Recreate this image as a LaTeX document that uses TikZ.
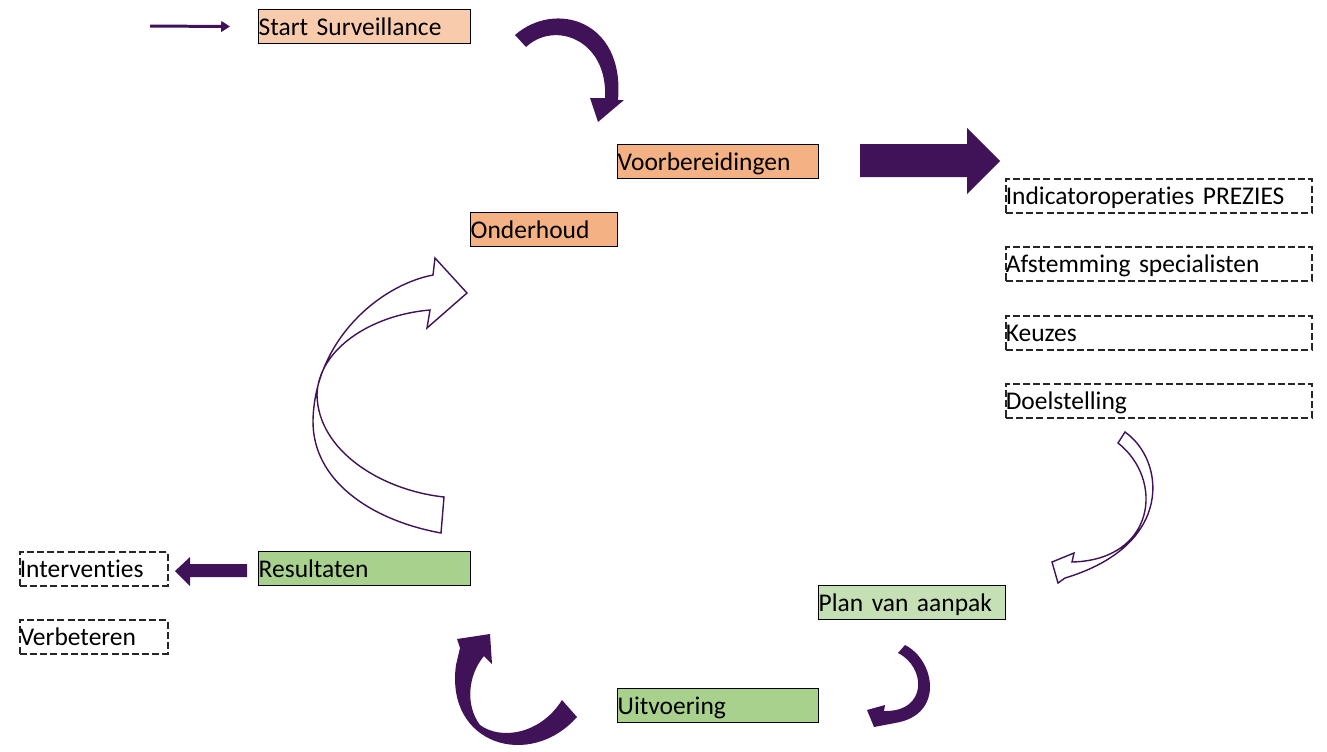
\documentclass[tikz,border=0pt]{standalone}
\usepackage{fontspec}
\setmainfont{Carlito}[Ligatures=NoCommon]
\usetikzlibrary{arrows.meta}
\definecolor{paars}{RGB}{64,18,88}
\definecolor{perzik}{HTML}{F8CBAD}
\definecolor{oranje}{HTML}{F4B183}
\definecolor{groen}{HTML}{A9D18E}
\definecolor{lichtgroen}{HTML}{C5E0B4}
\tikzset{
  fase/.style={draw=black, line width=0.8pt, anchor=north west, minimum height=0.68cm,
    inner xsep=0pt, inner ysep=0pt, text height=11.6pt, text depth=1.4pt, align=left,
    font=\fontsize{14.5}{17}\selectfont},
  taak/.style={fase, draw=black!85, line width=0.9pt, dash pattern=on 4pt off 1.8pt},
  lint/.style={fill=paars},
  lintopen/.style={draw=paars, fill=white, line width=0.8pt, line join=miter},
}
\begin{document}
\begin{tikzpicture}[x=0.02cm,y=-0.02cm]
\useasboundingbox (0,0) rectangle (1327,751);

% Fasen van de cyclus
\node[fase,fill=perzik,text width=4.24cm] (start) at (258,9) {Start Surveillance};
\node[fase,fill=oranje,text width=4.02cm] (voor) at (617,144) {Voorbereidingen};
\node[fase,fill=oranje,text width=2.94cm] (onderhoud) at (470,212) {Onderhoud};
\node[fase,fill=lichtgroen,text width=3.74cm] (plan) at (818,585) {Plan van aanpak};
\node[fase,fill=groen,text width=4.02cm] (uitv) at (617,688) {Uitvoering};
\node[fase,fill=groen,text width=4.24cm] (res) at (258,551) {Resultaten};

% Onderdelen van de voorbereiding
\node[taak,text width=6.12cm] (indic) at (1005,178) {Indicatoroperaties PREZIES};
\node[taak,text width=6.12cm] (afst) at (1005,246) {Afstemming specialisten};
\node[taak,text width=6.12cm] (keuzes) at (1005,315) {Keuzes};
\node[taak,text width=6.12cm] (doel) at (1005,383) {Doelstelling};

% Gevolgen van de resultaten
\node[taak,text width=2.96cm] (interv) at (19,551) {Interventies};
\node[taak,text width=2.96cm] (verb) at (19,619) {Verbeteren};

% Ingang
\coordinate (ingang) at (150,26);
\draw[paars,line width=1.7pt,-{Triangle[length=5pt,width=6pt]},shorten >=0.56cm] (ingang) -- (start.west);

% Rechte blokpijlen
\fill[lint] (860,144) -- (967,144) -- (967,128) -- (1000,161) -- (967,194) -- (967,177) -- (860,177) -- cycle;
\fill[lint] (247,564) -- (190,564) -- (190,557) -- (175,571) -- (190,586) -- (190,577) -- (247,577) -- cycle;

% Gebogen pijlen (gevuld)
\fill[lint] (515,35) .. controls (555,0) and (625,20) .. (618,100) -- (624,100) -- (598,122)
  -- (590,98) -- (605,98) .. controls (608,40) and (555,20) .. (526,47) -- cycle;
\fill[lint] (898,653) -- (905,645) .. controls (935,660) and (945,715) .. (895,723) -- (874,727)
  -- (867,710) -- (885,705) -- (884,711) .. controls (928,712) and (926,667) .. (898,653) -- cycle;
\fill[lint] (562,700) -- (577,717) .. controls (530,770) and (445,745) .. (456,665) -- (460,648)
  -- (457,639) -- (490,634) -- (492,664) -- (484,656) .. controls (468,675) and (465,705) .. (480,725)
  .. controls (500,740) and (540,735) .. (562,700) -- cycle;

% Gebogen pijlen (open)
\draw[lintopen] (1118,443) -- (1125,432) .. controls (1165,460) and (1175,545) .. (1065,578) -- (1058,583)
  -- (1052,562) -- (1074,553) -- (1072,562) .. controls (1155,560) and (1165,480) .. (1118,443) -- cycle;
\draw[lintopen] (444,497) -- (441,533) .. controls (370,520) and (312,480) .. (313,420)
  .. controls (315,340) and (380,285) .. (433,275) -- (435,258) -- (467,293) -- (427,328) -- (430,310)
  .. controls (370,315) and (318,350) .. (317,395) .. controls (318,450) and (380,490) .. (444,497) -- cycle;

\end{tikzpicture}
\end{document}
